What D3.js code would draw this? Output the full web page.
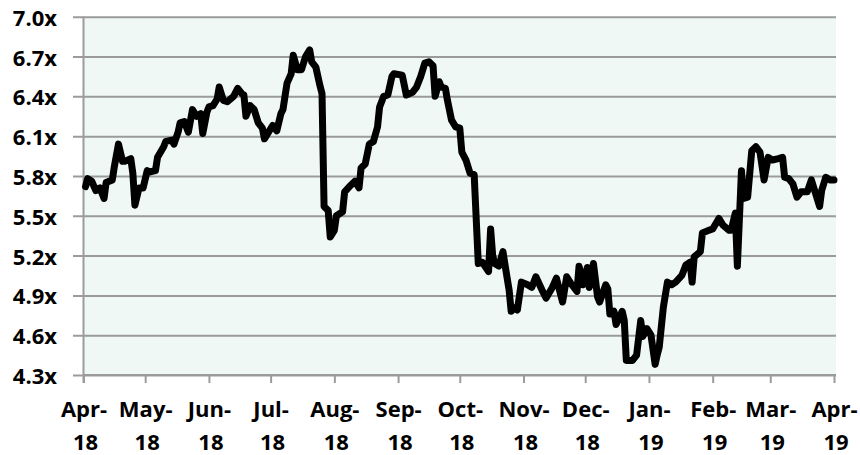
<!DOCTYPE html>
<html>
<head>
<meta charset="utf-8">
<script src="https://cdn.jsdelivr.net/npm/d3@7"></script>
<style>
  body { margin: 0; background: #fff; }
  svg text { font-family: "Open Sans", sans-serif; font-weight: bold; fill: #000; }
</style>
</head>
<body>
<script>
// values (multiple, x)
var dates = [
  "2018-04-02","2018-04-03","2018-04-05","2018-04-07","2018-04-09","2018-04-11","2018-04-12","2018-04-15","2018-04-16","2018-04-18",
  "2018-04-20","2018-04-21","2018-04-24","2018-04-25","2018-04-26","2018-04-28","2018-04-30","2018-05-02","2018-05-03","2018-05-06",
  "2018-05-07","2018-05-10","2018-05-11","2018-05-14","2018-05-15","2018-05-17","2018-05-18","2018-05-20","2018-05-22","2018-05-24",
  "2018-05-26","2018-05-28","2018-05-29","2018-05-31","2018-06-01","2018-06-03","2018-06-05","2018-06-06","2018-06-08","2018-06-10",
  "2018-06-13","2018-06-15","2018-06-17","2018-06-18","2018-06-19","2018-06-21","2018-06-23","2018-06-25","2018-06-27","2018-06-28",
  "2018-06-30","2018-07-02","2018-07-04","2018-07-06","2018-07-07","2018-07-09","2018-07-11","2018-07-12","2018-07-14","2018-07-16",
  "2018-07-18","2018-07-20","2018-07-21","2018-07-23","2018-07-25","2018-07-26","2018-07-27","2018-07-29","2018-07-30","2018-08-01",
  "2018-08-02","2018-08-05","2018-08-06","2018-08-09","2018-08-11","2018-08-13","2018-08-14","2018-08-16","2018-08-18","2018-08-20",
  "2018-08-22","2018-08-23","2018-08-25","2018-08-27","2018-08-29","2018-08-30","2018-09-03","2018-09-05","2018-09-08","2018-09-10",
  "2018-09-12","2018-09-14","2018-09-16","2018-09-18","2018-09-19","2018-09-21","2018-09-22","2018-09-24","2018-09-25","2018-09-27",
  "2018-09-29","2018-10-01","2018-10-02","2018-10-04","2018-10-06","2018-10-08","2018-10-10","2018-10-12","2018-10-15","2018-10-16",
  "2018-10-17","2018-10-18","2018-10-20","2018-10-22","2018-10-23","2018-10-25","2018-10-26","2018-10-27","2018-10-29","2018-10-31",
  "2018-11-03","2018-11-05","2018-11-07","2018-11-10","2018-11-12","2018-11-15","2018-11-17","2018-11-20","2018-11-22","2018-11-24",
  "2018-11-27","2018-11-28","2018-11-30","2018-12-02","2018-12-03","2018-12-05","2018-12-07","2018-12-08","2018-12-11","2018-12-12",
  "2018-12-13","2018-12-15","2018-12-16","2018-12-19","2018-12-20","2018-12-21","2018-12-24","2018-12-26","2018-12-28","2018-12-29",
  "2018-12-31","2019-01-02","2019-01-04","2019-01-05","2019-01-06","2019-01-08","2019-01-10","2019-01-12","2019-01-14","2019-01-17",
  "2019-01-19","2019-01-21","2019-01-22","2019-01-23","2019-01-26","2019-01-27","2019-01-30","2019-02-01","2019-02-04","2019-02-06",
  "2019-02-09","2019-02-10","2019-02-12","2019-02-13","2019-02-15","2019-02-16","2019-02-18","2019-02-20","2019-02-22","2019-02-24",
  "2019-02-26","2019-02-28","2019-03-02","2019-03-05","2019-03-07","2019-03-08","2019-03-10","2019-03-12","2019-03-14","2019-03-16",
  "2019-03-19","2019-03-21","2019-03-23","2019-03-25","2019-03-26","2019-03-28","2019-03-30","2019-04-01"
];
var values = [
  5.72,5.78,5.76,5.69,5.71,5.63,5.75,5.77,5.87,6.04,
  5.91,5.91,5.93,5.82,5.58,5.71,5.71,5.84,5.83,5.84,
  5.94,6.02,6.06,6.07,6.04,6.13,6.20,6.21,6.13,6.30,
  6.25,6.27,6.12,6.28,6.32,6.33,6.38,6.47,6.37,6.36,
  6.40,6.46,6.42,6.41,6.25,6.33,6.30,6.20,6.16,6.08,
  6.13,6.18,6.14,6.27,6.30,6.50,6.57,6.71,6.60,6.60,
  6.70,6.75,6.66,6.62,6.48,6.42,5.57,5.54,5.34,5.39,
  5.50,5.53,5.68,5.73,5.76,5.71,5.86,5.89,6.04,6.06,
  6.17,6.32,6.40,6.41,6.55,6.57,6.56,6.41,6.43,6.47,
  6.55,6.65,6.66,6.63,6.40,6.51,6.47,6.46,6.37,6.22,
  6.17,6.16,5.98,5.92,5.82,5.81,5.14,5.15,5.08,5.40,
  5.20,5.14,5.12,5.23,5.13,4.94,4.78,4.81,4.79,5.00,
  4.98,4.96,5.04,4.94,4.88,4.96,5.03,4.85,5.04,4.99,
  4.93,5.12,4.98,5.11,4.96,5.14,4.89,4.85,4.98,4.95,
  4.76,4.78,4.68,4.78,4.71,4.41,4.41,4.45,4.71,4.59,
  4.65,4.60,4.38,4.45,4.51,4.81,5.00,4.98,5.00,5.05,
  5.13,5.15,5.00,5.19,5.23,5.37,5.39,5.40,5.48,5.43,
  5.39,5.39,5.52,5.12,5.84,5.63,5.64,5.99,6.02,5.98,
  5.77,5.94,5.92,5.93,5.94,5.79,5.78,5.74,5.64,5.68,
  5.68,5.77,5.67,5.57,5.69,5.79,5.77,5.77
];
var yTicks = [4.3, 4.6, 4.9, 5.2, 5.5, 5.8, 6.1, 6.4, 6.7, 7.0];
var xTickDates = ["2018-04-01","2018-05-01","2018-06-01","2018-07-01","2018-08-01","2018-09-01","2018-10-01",
                  "2018-11-01","2018-12-01","2019-01-01","2019-02-01","2019-03-01","2019-04-01"];
var xTickLabels = ["Apr-|18","May-|18","Jun-|18","Jul-|18","Aug-|18","Sep-|18","Oct-|18",
                   "Nov-|18","Dec-|18","Jan-|19","Feb-|19","Mar-|19","Apr-|19"];

var W = 860, H = 455;
var plotLeft = 83.5, plotRight = 836, xEnd = 834, plotTop = 16.7, plotBottom = 375;
var gridColor = "#9b9b9b";
var parseDate = d3.timeParse("%Y-%m-%d");

var data = dates.map(function (d, i) { return { date: parseDate(d), v: values[i] }; });

var svg = d3.select("body").append("svg")
  .attr("width", W)
  .attr("height", H);

var x = d3.scaleTime()
  .domain([parseDate(xTickDates[0]), parseDate(xTickDates[xTickDates.length - 1])])
  .range([plotLeft, xEnd]);

var y = d3.scaleLinear()
  .domain([4.3, 7.0])
  .range([plotBottom, plotTop]);

// plot area
svg.append("rect")
  .attr("x", plotLeft)
  .attr("y", plotTop)
  .attr("width", plotRight - plotLeft)
  .attr("height", plotBottom - plotTop)
  .attr("fill", "#f0f8f5");

// y axis with grid lines
var yAxis = d3.axisLeft(y)
  .tickValues(yTicks)
  .tickSize(-(plotRight - plotLeft))
  .tickPadding(0)
  .tickFormat(function (d) { return d3.format(".1f")(d) + "x"; });

var gy = svg.append("g")
  .attr("transform", "translate(" + plotLeft + ",0)")
  .call(yAxis);
gy.select(".domain").remove();
gy.selectAll(".tick line")
  .attr("x1", -10.5)
  .attr("stroke", gridColor)
  .attr("stroke-width", 2);
gy.selectAll(".tick text")
  .attr("x", -26.5)
  .attr("dy", null)
  .attr("y", 8.5)
  .style("font-size", "22px");

// left axis line
svg.append("line")
  .attr("x1", plotLeft).attr("x2", plotLeft)
  .attr("y1", plotTop).attr("y2", plotBottom + 8)
  .attr("stroke", gridColor)
  .attr("stroke-width", 2);

// x axis
var xAxis = d3.axisBottom(x)
  .tickValues(xTickDates.map(parseDate))
  .tickSize(8)
  .tickSizeOuter(0)
  .tickFormat(function (d, i) { return xTickLabels[i]; });

var gx = svg.append("g")
  .attr("transform", "translate(0," + plotBottom + ")")
  .call(xAxis);
gx.select(".domain")
  .attr("d", "M" + plotLeft + ",0H" + plotRight)
  .attr("stroke", gridColor)
  .attr("stroke-width", 2);
gx.selectAll(".tick line")
  .attr("stroke", gridColor)
  .attr("stroke-width", 2);
gx.selectAll(".tick text")
  .style("font-size", "22px")
  .attr("y", 0)
  .attr("dy", null)
  .each(function () {
    var t = d3.select(this);
    var parts = t.text().split("|");
    t.text(null);
    t.append("tspan").attr("x", 0).attr("y", 42).text(parts[0]);
    t.append("tspan").attr("x", 1.5).attr("y", 75).text(parts[1]);
  });

// the series
svg.append("path")
  .datum(data)
  .attr("fill", "none")
  .attr("stroke", "#000")
  .attr("stroke-width", 7)
  .attr("stroke-linejoin", "round")
  .attr("stroke-linecap", "round")
  .attr("d", d3.line()
    .x(function (d) { return x(d.date); })
    .y(function (d) { return y(d.v); }));
</script>
</body>
</html>
